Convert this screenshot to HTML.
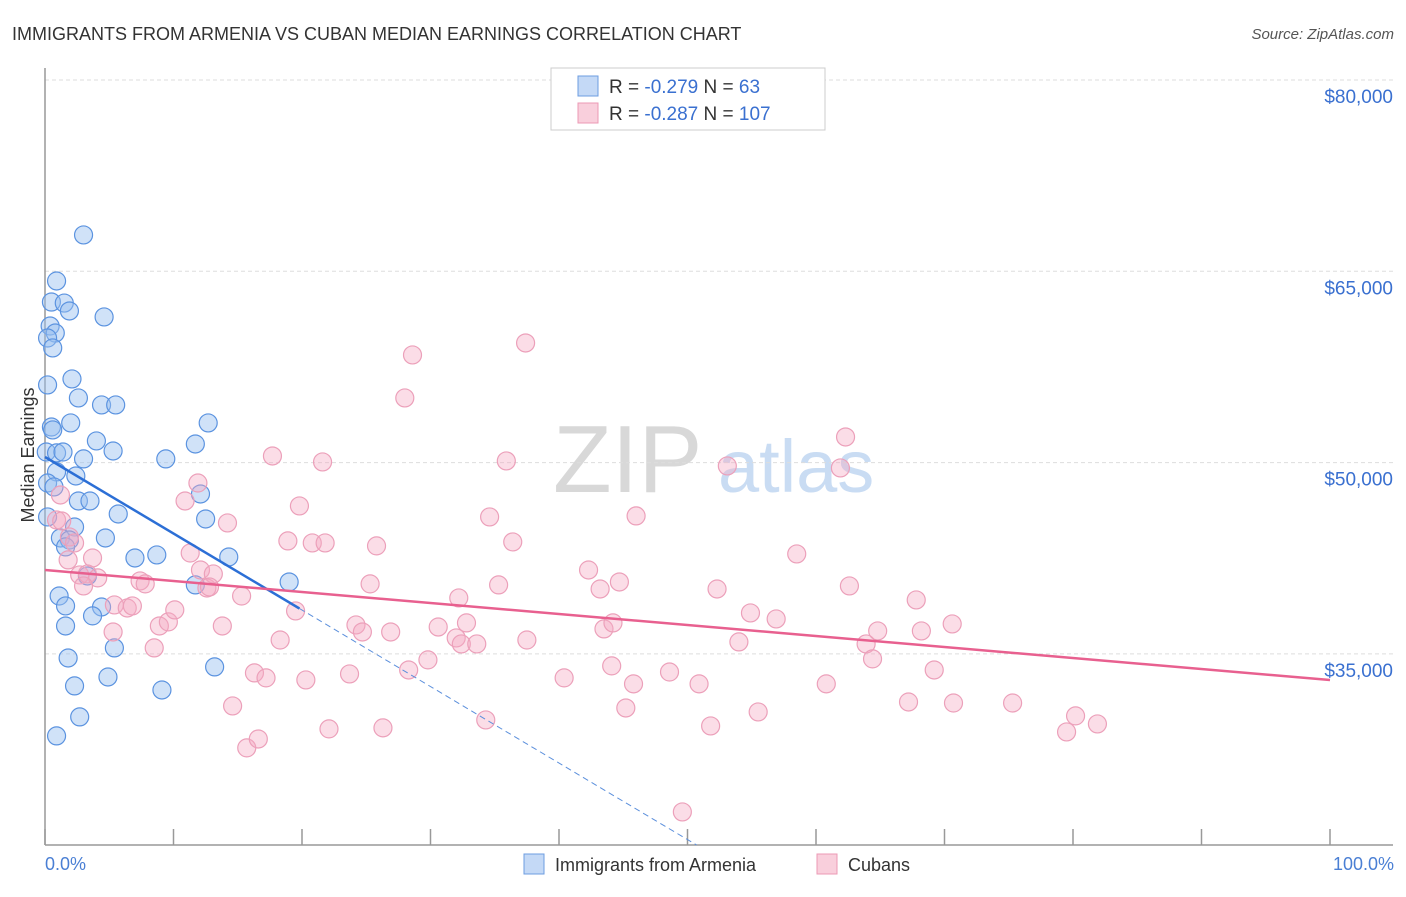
<!DOCTYPE html>
<html><head><meta charset="utf-8"><style>
body{margin:0;background:#fff;font-family:"Liberation Sans",sans-serif;}
svg text{font-family:"Liberation Sans",sans-serif;}
</style></head><body>
<svg id="chart" width="1406" height="892" xmlns="http://www.w3.org/2000/svg">
<text x="12" y="40" font-size="18" fill="#333">IMMIGRANTS FROM ARMENIA VS CUBAN MEDIAN EARNINGS CORRELATION CHART</text>
<text x="1394" y="39" font-size="15" fill="#555" font-style="italic" text-anchor="end">Source: ZipAtlas.com</text>
<g>
<text x="553" y="492" font-size="96" fill="#d8d8d8" font-family="Liberation Serif">ZIP</text>
<text x="718" y="492" font-size="74" fill="#c9dcf3">atlas</text>
</g>
<g id="grid"></g>
<g id="axes"></g>
<g id="blue"></g>
<g id="pink"></g>
<g id="trends"></g>
<text transform="translate(34,455) rotate(-90)" font-size="18" fill="#333" text-anchor="middle">Median Earnings</text>
<text x="45" y="870" font-size="18" fill="#4a7fd4">0.0%</text>
<text x="1394" y="870" font-size="18" fill="#4a7fd4" text-anchor="end">100.0%</text>
<g>
<rect x="551" y="68" width="274" height="62" fill="#fff" stroke="#ccc"/>
<rect x="578" y="76" width="20" height="20" fill="#c4d9f6" stroke="#6d9de0"/>
<rect x="578" y="103" width="20" height="20" fill="#f9cfdc" stroke="#ec9ab5"/>
<text x="609" y="93" font-size="19" fill="#333">R = <tspan fill="#3a70d0">-0.279</tspan>   N = <tspan fill="#3a70d0">  63</tspan></text>
<text x="609" y="120" font-size="19" fill="#333">R = <tspan fill="#3a70d0">-0.287</tspan>   N = <tspan fill="#3a70d0">107</tspan></text>
</g>
<g>
<rect x="524" y="854" width="20" height="20" fill="#c4d9f6" stroke="#6d9de0"/>
<text x="555" y="871" font-size="18" fill="#333">Immigrants from Armenia</text>
<rect x="817" y="854" width="20" height="20" fill="#f9cfdc" stroke="#ec9ab5"/>
<text x="848" y="871" font-size="18" fill="#333">Cubans</text>
</g>
</svg>
<script>
const yTicks=[80000,65000,50000,35000];
const yTickLabels=["$80,000","$65,000","$50,000","$35,000"];
const xTicks=[0,10,20,30,40,50,60,70,80,90,100];
const blueX=[3.0,0.9,0.5,1.5,1.9,4.6,0.4,0.8,0.2,0.6,0.2,2.1,2.6,4.4,5.5,2.0,0.5,12.7,0.6,4.0,11.7,0.1,0.9,1.4,5.3,3.0,9.4,0.9,2.4,0.2,0.7,12.1,2.6,3.5,0.2,5.7,12.5,2.3,1.2,4.7,1.9,1.6,8.7,7.0,14.3,3.3,19.0,11.7,1.1,1.6,4.4,3.7,1.6,5.4,1.8,13.2,4.9,2.3,9.1,2.7,0.9];
const blueY=[67850,64240,62590,62510,61890,61420,60710,60160,59770,58990,56090,56560,55070,54520,54520,53110,52790,53110,52560,51700,51460,50830,50760,50830,50910,50290,50290,49270,48950,48400,48090,47540,46990,46990,45740,45970,45580,44950,44090,44090,43930,43390,42760,42520,42600,41110,40640,40410,39540,38760,38680,37980,37190,35470,34680,33980,33190,32490,32170,30060,28570];
const pinkX=[1.2,0.9,1.3,1.9,2.3,1.8,3.7,2.7,3.3,4.1,3.0,5.4,6.4,6.8,5.3,7.4,7.8,8.5,8.9,9.6,10.1,11.3,10.9,11.9,12.1,12.6,13.1,14.2,13.8,12.8,15.3,14.6,15.7,16.6,16.3,17.2,17.7,18.3,18.9,19.5,19.8,20.3,20.8,21.6,21.8,22.1,23.7,24.2,24.7,25.3,25.8,26.3,26.9,28.0,28.3,28.6,29.8,30.6,32.0,32.2,32.4,32.8,33.6,34.3,34.6,35.3,35.9,36.4,37.4,37.5,40.4,42.3,43.2,43.5,44.1,44.2,44.7,45.2,45.8,46.0,48.6,49.6,50.9,51.8,52.3,53.1,54.9,54.0,55.5,56.9,58.5,60.8,62.3,61.9,62.6,63.9,64.4,64.8,67.2,67.8,68.2,69.2,70.6,70.7,75.3,80.2,79.5,81.9];
const pinkY=[47460,45500,45420,44170,43700,42370,42520,41190,41270,40960,40330,38840,38600,38760,36720,40720,40490,35470,37190,37510,38450,42910,46990,48400,41580,40170,41270,45270,37190,40250,39540,30920,27630,28330,33510,33120,50520,36090,43860,38370,46600,32960,43700,50050,43700,29120,33430,37270,36720,40490,43470,29200,36720,55070,33740,58440,34530,37110,36250,39390,35780,37430,35780,29820,45740,40410,50130,43780,59380,36090,33120,41580,40090,36960,34060,37430,40640,30760,32650,45820,33580,22610,32650,29350,40090,49740,38210,35940,30450,37740,42840,32650,52010,49580,40330,35780,34610,36800,31230,39230,36800,33740,37350,31150,31150,30140,28880,29510];
const blueTrend=[50440,-600];   // intercept, slope per %
const blueSolidEnd=19.8;
const pinkTrend=[41580,-86.3];
const NS="http://www.w3.org/2000/svg";
const X0=45,X1=1330,Y0=80,YPX=191.3/15000;
const sx=v=>X0+(X1-X0)*v/100;
const sy=v=>Y0+(80000-v)*YPX;
function mk(tag,attrs,parent){const e=document.createElementNS(NS,tag);for(const k in attrs)e.setAttribute(k,attrs[k]);parent.appendChild(e);return e;}
const grid=document.getElementById('grid'),axes=document.getElementById('axes');
yTicks.forEach((t,i)=>{
 const l=mk('line',{x1:X0,x2:1393,y1:sy(t),y2:sy(t),stroke:'#ddd','stroke-dasharray':'4,3'},grid);
 
 
 const tx=mk('text',{x:1393,y:sy(t)+23,'font-size':19,fill:'#3a70d0','text-anchor':'end'},grid);
 tx.textContent=yTickLabels[i];
 
 
});
const ya=mk('line',{x1:X0,x2:X0,y1:68,y2:845,stroke:'#999','stroke-width':1.5},axes);


const xa=mk('line',{x1:X0,x2:1393,y1:845,y2:845,stroke:'#999','stroke-width':1.5},axes);


xTicks.forEach(t=>{
 const l=mk('line',{x1:sx(t),x2:sx(t),y1:829,y2:845,stroke:'#999','stroke-width':1.5},axes);
 
 
});
function pts(xs,ys,g,fill,stroke,name){
 xs.forEach((x,i)=>{
  const c=mk('circle',{cx:sx(x),cy:sy(ys[i]),r:9,fill:fill,stroke:stroke,'stroke-width':1.2},g);
  
  
 });
}
pts(pinkX,pinkY,document.getElementById('pink'),'rgba(244,170,195,0.4)','#eca0ba','cuban-point');
pts(blueX,blueY,document.getElementById('blue'),'rgba(150,190,240,0.45)','#5b93e0','armenia-point');
const tr=document.getElementById('trends');
const bf=x=>blueTrend[0]+blueTrend[1]*x, pf=x=>pinkTrend[0]+pinkTrend[1]*x;
const xEnd=(sy(blueTrend[0])-845<0)?((blueTrend[0]-(80000-(845-Y0)/YPX))/-blueTrend[1]):100;
const bd=mk('line',{x1:sx(blueSolidEnd),y1:sy(bf(blueSolidEnd)),x2:sx(Math.min(xEnd,100)),y2:sy(bf(Math.min(xEnd,100))),stroke:'#5b8fdc','stroke-width':1,'stroke-dasharray':'6,4'},tr);


const bs=mk('line',{x1:sx(0),y1:sy(bf(0)),x2:sx(blueSolidEnd),y2:sy(bf(blueSolidEnd)),stroke:'#2c6fd6','stroke-width':2.5},tr);


const ps=mk('line',{x1:sx(0),y1:sy(pf(0)),x2:sx(100),y2:sy(pf(100)),stroke:'#e8608f','stroke-width':2.5},tr);


</script>
</body></html>
